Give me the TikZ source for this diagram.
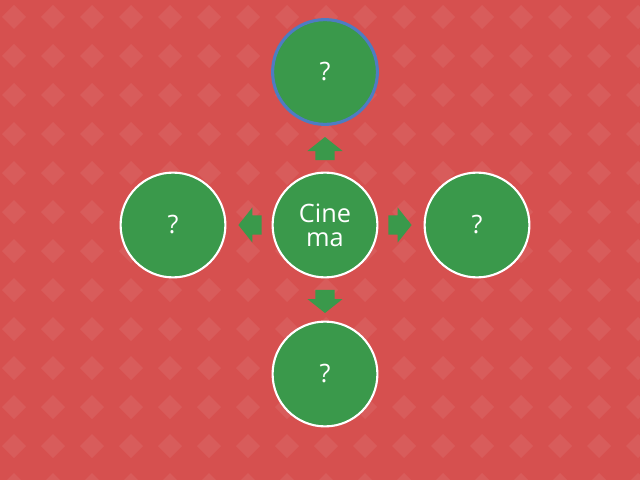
\documentclass[tikz,border=0pt]{standalone}
\usepackage{fontspec}
\setmainfont{Open Sans}
\definecolor{bgred}{HTML}{D6504F}
\definecolor{leaf}{HTML}{3A994B}
\definecolor{rim}{HTML}{4E7CC2}
\tikzset{
  bubble/.style={circle, fill=leaf, draw=white, line width=1.5pt, minimum size=2.62cm,
    inner sep=0pt, text=white, align=center, font=\fontsize{18}{17}\selectfont},
  pointer/.pic={
    \fill[leaf] (-0.29,-0.24) -- (-0.06,-0.24) -- (-0.06,-0.44) -- (0.29,0)
      -- (-0.06,0.44) -- (-0.06,0.24) -- (-0.29,0.24) -- cycle;
  }
}
\begin{document}
\begin{tikzpicture}
\fill[bgred] (0,0) rectangle (16,12);
\useasboundingbox (0,0) rectangle (16,12);

% diamond pattern, 39px apart
\foreach \i in {0,...,16}
  \foreach \j in {0,...,12}
    \fill[white, opacity=0.07] ({0.35+0.975*\i}, {11.575-0.975*\j}) +(0.3,0) -- +(0,0.3) -- +(-0.3,0) -- +(0,-0.3) -- cycle;

\node[bubble] (hub) at (8.125, 6.375) {Cine\\ma};

\node[bubble, draw=rim, line width=2.2pt] (up) at ([shift={(0, 3.825)}] hub) {?};
\node[bubble] (left) at ([shift={(-3.8, 0)}] hub) {?};
\node[bubble] (right) at ([shift={(3.8, 0)}] hub) {?};
\node[bubble] (down) at ([shift={(0, -3.725)}] hub) {?};

\pic[rotate=90] at ([shift={(0, 1.91)}] hub) {pointer};
\pic[rotate=180] at ([shift={(-1.875, 0)}] hub) {pointer};
\pic at ([shift={(1.875, 0)}] hub) {pointer};
\pic[rotate=-90] at ([shift={(0, -1.91)}] hub) {pointer};

\end{tikzpicture}
\end{document}
